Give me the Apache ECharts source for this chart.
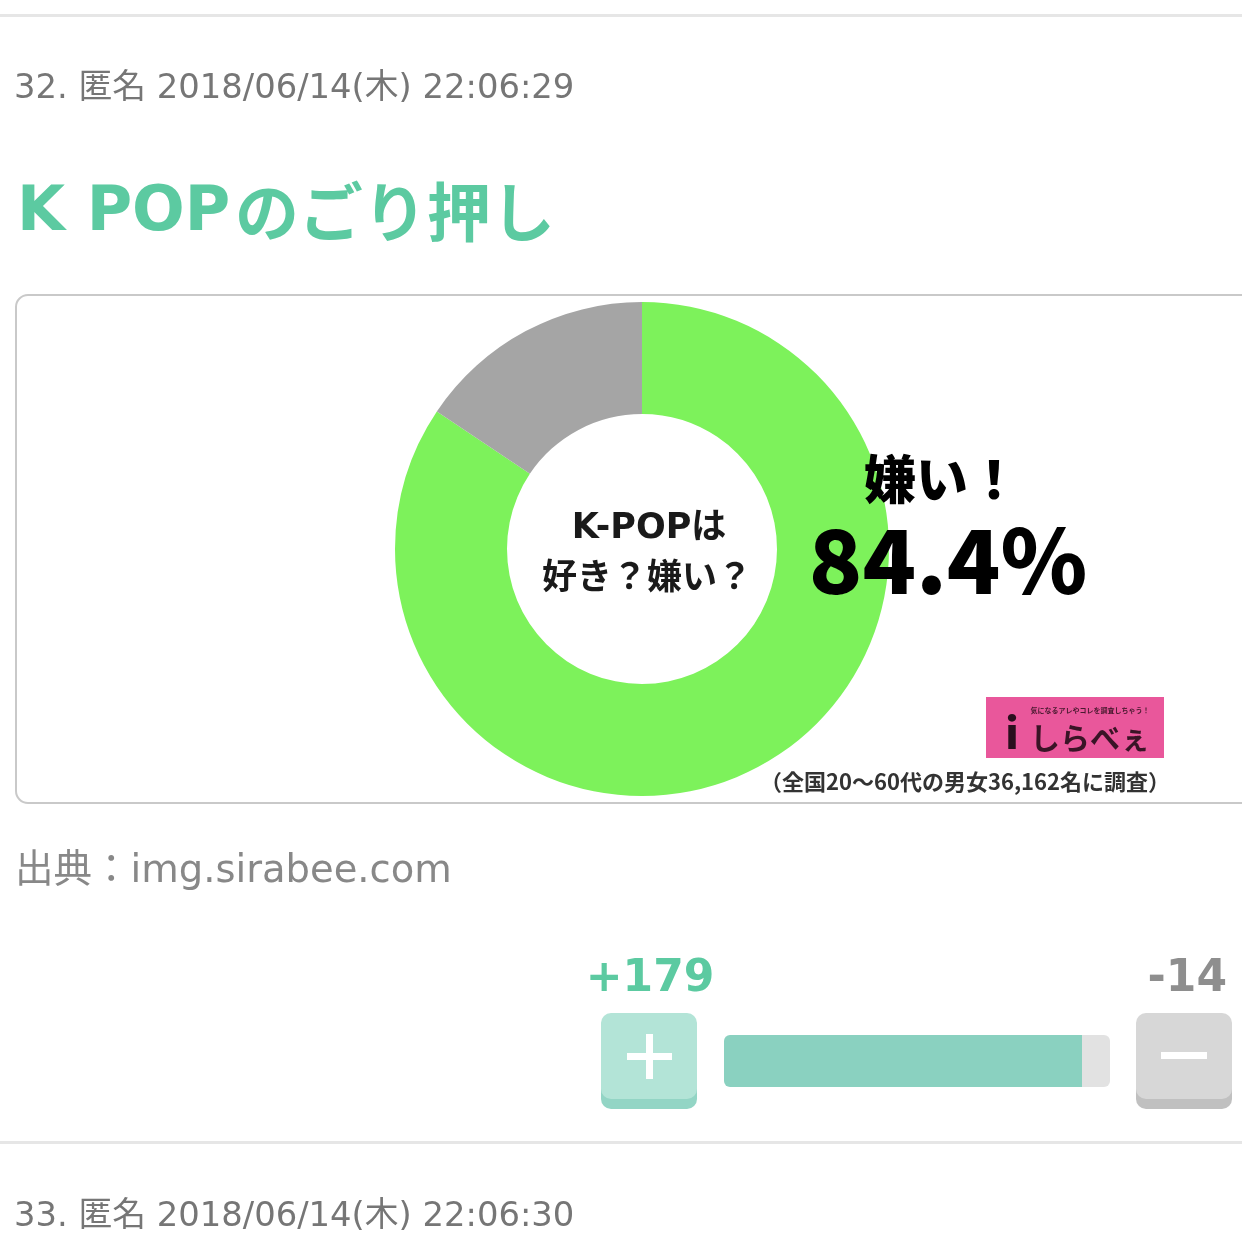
<!DOCTYPE html>
<html><head><meta charset="utf-8">
<script src="https://cdn.jsdelivr.net/npm/echarts@6/dist/echarts.min.js"></script>
<style>html,body{margin:0;padding:0;background:#fff;}#c{width:1242px;height:1242px;}</style>
</head><body><div id="c"></div>
<script>
const categories = ['嫌い', '好き'];
const values = [84.4, 15.6];
const sliceColors = ['#7df25b', '#a5a5a5'];
const voteLabels = ['+179', '-14'];
const votes = [179, 14];

const chart = echarts.init(document.getElementById('c'));
const jp = '"Noto Sans CJK JP", "Noto Sans", sans-serif';
const dv = '"DejaVu Sans", "Noto Sans CJK JP", sans-serif';
const option = {
  backgroundColor: '#ffffff',
  animation: false,
  grid: { left: 724, top: 1035, width: 386, height: 52 },
  xAxis: { type: 'value', min: 0, max: votes[0] + votes[1], show: false },
  yAxis: { type: 'category', data: ['votes'], show: false },
  graphic: [
    { type: 'rect', shape: { x: 0, y: 14, width: 1242, height: 3 }, style: { fill: '#e6e6e6' }, silent: true },
    { type: 'text', x: 14, y: 89, style: { text: '32. 匿名 2018/06/14(木) 22:06:29', font: '33.8px ' + dv, fill: '#767676', verticalAlign: 'middle' } },
    { type: 'text', x: 17, y: 214, style: { text: 'K POP', font: 'bold 62px ' + dv, fill: '#5ccaa1', verticalAlign: 'middle' } },
    { type: 'text', x: 235, y: 212, style: { text: 'のごり押し', font: '600 64px ' + jp, fill: '#5ccaa1', verticalAlign: 'middle' } },
    { type: 'rect', shape: { x: 16, y: 295, width: 1260, height: 508, r: 12 }, style: { fill: 'none', stroke: '#c9c9c9', lineWidth: 2 }, z: 10 },
    { type: 'text', x: 649, y: 529, style: { text: 'K-POPは', font: '600 35px ' + dv, fill: '#1a1a1a', align: 'center', verticalAlign: 'middle' }, z: 20 },
    { type: 'text', x: 647, y: 576, style: { text: '好き？嫌い？', font: '600 35px ' + jp, fill: '#1a1a1a', align: 'center', verticalAlign: 'middle' }, z: 20 },
    { type: 'text', x: 942, y: 479, style: { text: categories[0] + '！', font: '900 52px ' + jp, fill: '#000', align: 'center', verticalAlign: 'middle' }, z: 20 },
    { type: 'text', x: 948, y: 561, style: { text: values[0] + '%', font: '900 88px ' + jp, fill: '#000', align: 'center', verticalAlign: 'middle' }, z: 20 },
    { type: 'rect', shape: { x: 986, y: 697, width: 178, height: 61 }, style: { fill: '#e9579b' }, z: 20 },
    { type: 'text', x: 1090, y: 710, style: { text: '気になるアレやコレを調査しちゃう！', font: 'bold 7px ' + jp, fill: '#4a1a30', align: 'center', verticalAlign: 'middle' }, z: 21 },
    { type: 'text', x: 1012, y: 733, style: { text: 'i', font: '900 42px ' + jp, fill: '#2a0f1d', align: 'center', verticalAlign: 'middle' }, z: 21 },
    { type: 'text', x: 1090, y: 738, style: { text: 'しらべぇ', font: 'bold 30px ' + jp, fill: '#3a1426', align: 'center', verticalAlign: 'middle' }, z: 21 },
    { type: 'text', x: 965, y: 782, style: { text: '（全国20〜60代の男女36,162名に調査）', font: 'bold 22px ' + jp, fill: '#333', align: 'center', verticalAlign: 'middle' }, z: 20 },
    { type: 'text', x: 15, y: 872, style: { text: '出典：img.sirabee.com', font: '38.5px ' + dv, fill: '#888', verticalAlign: 'middle' } },
    { type: 'text', x: 650, y: 980, style: { text: voteLabels[0], font: 'bold 44px ' + dv, fill: '#5ccaa1', align: 'center', verticalAlign: 'middle' } },
    { type: 'text', x: 1227, y: 980, style: { text: voteLabels[1], font: 'bold 44px ' + dv, fill: '#8e8e8e', align: 'right', verticalAlign: 'middle' } },
    { type: 'rect', shape: { x: 601, y: 1016, width: 96, height: 93, r: 10 }, style: { fill: '#93d5c5' } },
    { type: 'rect', shape: { x: 601, y: 1013, width: 96, height: 86, r: 10 }, style: { fill: '#b3e4d7' } },
    { type: 'rect', shape: { x: 627, y: 1053, width: 45, height: 7 }, style: { fill: '#fff' } },
    { type: 'rect', shape: { x: 646, y: 1034, width: 7, height: 45 }, style: { fill: '#fff' } },
    { type: 'rect', shape: { x: 1136, y: 1016, width: 96, height: 93, r: 10 }, style: { fill: '#c0c0c0' } },
    { type: 'rect', shape: { x: 1136, y: 1013, width: 96, height: 86, r: 10 }, style: { fill: '#d7d7d7' } },
    { type: 'rect', shape: { x: 1161, y: 1052, width: 46, height: 7 }, style: { fill: '#fff' } },
    { type: 'rect', shape: { x: 0, y: 1141, width: 1242, height: 3 }, style: { fill: '#e6e6e6' } },
    { type: 'text', x: 14, y: 1217, style: { text: '33. 匿名 2018/06/14(木) 22:06:30', font: '33.8px ' + dv, fill: '#767676', verticalAlign: 'middle' } }
  ],
  series: [
    {
      type: 'pie',
      center: [642, 549],
      radius: [135, 247],
      startAngle: 90,
      clockwise: true,
      label: { show: false },
      labelLine: { show: false },
      emphasis: { disabled: true },
      data: categories.map((c, i) => ({ name: c, value: values[i], itemStyle: { color: sliceColors[i] } }))
    },
    {
      type: 'bar', stack: 'v', barWidth: 52, data: [votes[0]],
      itemStyle: { color: '#8ad1c0', borderRadius: [6, 0, 0, 6] }, silent: true
    },
    {
      type: 'bar', stack: 'v', barWidth: 52, data: [votes[1]],
      itemStyle: { color: '#e2e2e2', borderRadius: [0, 6, 6, 0] }, silent: true
    }
  ]
};
chart.setOption(option);
</script></body></html>
